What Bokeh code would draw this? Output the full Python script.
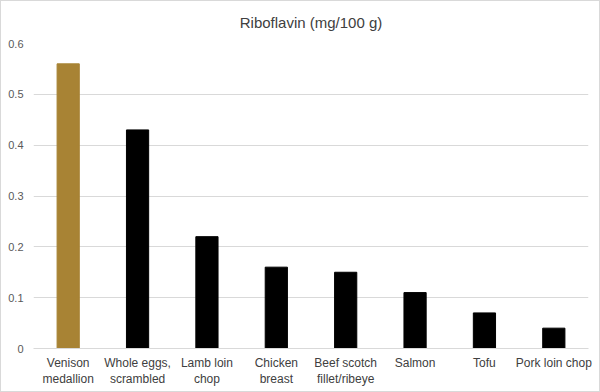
from bokeh.plotting import figure
from bokeh.models import ColumnDataSource, FixedTicker, Range1d
from bokeh.embed import file_html
from bokeh.resources import INLINE

title_text = "Riboflavin (mg/100 g)"
foods = ["Venison\nmedallion", "Whole eggs,\nscrambled", "Lamb loin\nchop", "Chicken\nbreast",
         "Beef scotch\nfillet/ribeye", "Salmon", "Tofu", "Pork loin chop"]
values = [0.56, 0.43, 0.22, 0.16, 0.15, 0.11, 0.07, 0.04]
bar_colors = ["#A88334", "#000000", "#000000", "#000000", "#000000", "#000000", "#000000", "#000000"]
y_ticks = [0, 0.1, 0.2, 0.3, 0.4, 0.5, 0.6]
y_tick_labels = ["0", "0.1", "0.2", "0.3", "0.4", "0.5", "0.6"]

src = ColumnDataSource(dict(food=foods, value=values, color=bar_colors))

p = figure(x_range=foods, y_range=Range1d(0, 0.6), width=600, height=392,
           output_backend="svg", toolbar_location=None, title=title_text,
           min_border_left=32, min_border_right=13, min_border_top=42, min_border_bottom=45)

p.styles = {"border": "1px solid #d9d9d9", "box-sizing": "border-box"}

p.vbar(x="food", top="value", width=0.32, color="color", source=src)

p.title.align = "center"
p.title.vertical_align = "top"
p.title.standoff = 21
p.title.text_font = "Liberation Sans"
p.title.text_font_size = "15px"
p.title.text_font_style = "normal"
p.title.text_color = "#404040"

p.outline_line_color = None
p.border_fill_color = "white"
p.xgrid.grid_line_color = None
p.ygrid.grid_line_color = "#d9d9d9"
p.ygrid.grid_line_width = 1

p.yaxis.ticker = FixedTicker(ticks=y_ticks)
p.yaxis.major_label_overrides = {t: l for t, l in zip(y_ticks, y_tick_labels)}
p.yaxis.axis_line_color = None
p.yaxis.major_tick_line_color = None
p.yaxis.major_tick_out = 0
p.yaxis.major_tick_in = 0
p.yaxis.minor_tick_line_color = None
p.yaxis.major_label_text_font = "Liberation Sans"
p.yaxis.major_label_text_font_size = "11px"
p.yaxis.major_label_text_color = "#595959"
p.yaxis.major_label_standoff = 10

p.xaxis.axis_line_color = "#d9d9d9"
p.xaxis.major_tick_line_color = None
p.xaxis.major_tick_out = 0
p.xaxis.major_tick_in = 0
p.xaxis.minor_tick_line_color = None
p.xaxis.major_label_text_font = "Liberation Sans"
p.xaxis.major_label_text_font_size = "12px"
p.xaxis.major_label_text_color = "#404040"
p.xaxis.major_label_standoff = 7

open("out.html", "w").write(file_html(p, INLINE))
